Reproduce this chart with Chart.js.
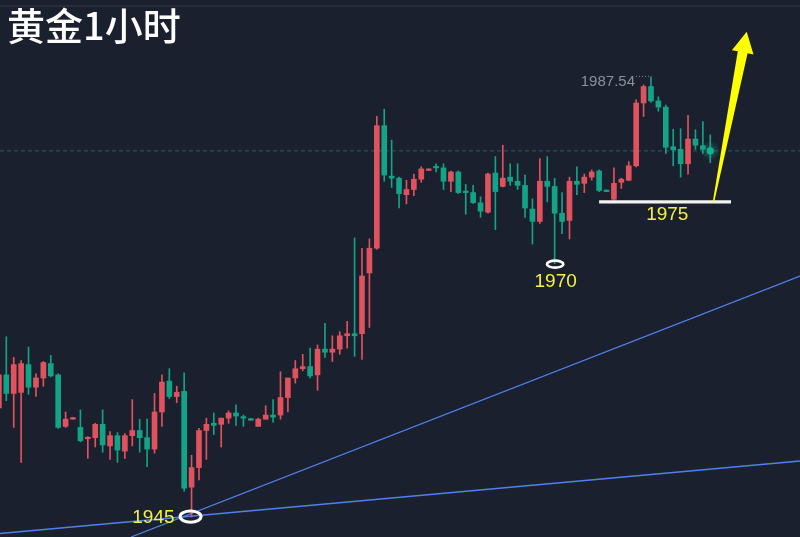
<!DOCTYPE html>
<html><head><meta charset="utf-8">
<script src="https://cdn.jsdelivr.net/npm/chart.js@4/dist/chart.umd.min.js"></script>
<style>html,body{margin:0;padding:0;background:#1b202e;overflow:hidden}canvas{display:block}</style>
</head><body>
<canvas id="c" width="800" height="537"></canvas>
<script>
// ---- data (gold, 1-hour candles) ----
const opens  = [1955.4,1958.6,1956.8,1956.9,1959.6,1957.4,1958.3,1959.7,1958.6,1953.6,1954.3,1953.5,1952.4,1952.5,1953.8,1951.7,1952.7,1951.2,1952.7,1953.2,
  1952.5,1951.4,1955.0,1958.0,1956.5,1957.0,1947.7,1949.6,1953.2,1953.9,1953.8,1954.4,1954.9,1954.5,1954.35,1953.6,1954.3,1954.7,1954.7,1956.4,
  1958.3,1959.2,1959.4,1958.6,1961.1,1960.8,1961.1,1962.4,1962.6,1962.6,1968.5,1970.9,1982.8,1977.9,1977.7,1976.1,1976.6,1977.6,1978.45,1978.8,
  1978.7,1977.4,1978.3,1976.4,1976.3,1975.3,1974.4,1978.2,1976.9,1977.8,1977.4,1977.0,1974.7,1973.5,1977.4,1976.9,1974.3,1973.6,1977.4,1977.2,
  1977.8,1978.4,1976.55,1975.65,1977.3,1977.5,1978.9,1985.0,1986.6,1985.2,1984.6,1980.75,1980.5,1979.1,1981.5,1980.85,1980.5];
const highs  = [1958.9,1962.3,1960.3,1960.0,1961.3,1958.7,1959.9,1960.5,1958.7,1955.0,1954.45,1955.2,1952.6,1953.9,1955.2,1953.1,1953.0,1952.9,1956.2,1954.3,
  1954.3,1956.8,1958.6,1959.2,1957.5,1958.8,1950.8,1953.4,1954.4,1954.9,1954.4,1955.1,1955.7,1954.7,1954.35,1954.4,1955.6,1956.2,1958.9,1958.3,
  1960.0,1960.6,1961.2,1961.5,1963.6,1962.4,1962.8,1963.8,1971.9,1970.9,1971.8,1983.7,1984.4,1981.4,1977.8,1977.5,1978.1,1978.8,1978.6,1979.1,
  1979.1,1978.4,1978.4,1977.1,1977.0,1975.9,1978.2,1979.8,1980.9,1979.1,1979.1,1978.0,1975.7,1979.6,1979.8,1977.7,1976.3,1977.8,1978.8,1978.1,
  1978.5,1978.5,1976.55,1978.7,1977.7,1979.3,1985.3,1986.75,1987.54,1985.6,1984.8,1982.45,1982.5,1983.8,1982.4,1983.2,1981.9];
const lows   = [1955.2,1956.1,1953.5,1950.1,1956.7,1956.5,1957.5,1958.4,1953.4,1953.5,1954.3,1952.1,1950.5,1951.6,1951.1,1950.4,1950.1,1950.5,1951.7,1951.1,
  1949.7,1951.0,1953.6,1956.3,1955.9,1947.3,1944.8,1948.4,1950.4,1952.8,1951.6,1953.9,1953.7,1953.6,1954.2,1953.6,1954.3,1954.0,1954.3,1955.0,
  1957.8,1959.0,1958.3,1957.1,1960.3,1959.9,1960.6,1961.2,1960.4,1960.1,1963.2,1970.8,1977.4,1976.8,1974.8,1975.2,1976.0,1977.3,1978.45,1978.3,
  1976.6,1976.4,1976.2,1974.2,1975.26,1973.9,1974.3,1972.7,1976.85,1977.0,1976.6,1973.9,1971.3,1973.3,1975.4,1969.4,1972.3,1971.8,1976.1,1976.3,
  1977.5,1976.4,1976.4,1975.55,1976.7,1977.45,1978.8,1983.7,1985.05,1984.2,1980.1,1978.9,1977.8,1978.1,1980.5,1980.1,1979.2];
const closes = [1958.6,1956.8,1959.6,1959.7,1957.4,1958.3,1959.8,1958.5,1953.5,1954.3,1954.45,1952.2,1952.5,1953.8,1951.8,1952.7,1951.3,1952.7,1953.2,1952.5,
  1951.4,1955.0,1957.9,1956.5,1956.9,1947.6,1949.6,1953.2,1953.8,1953.7,1954.4,1954.9,1954.6,1954.4,1954.2,1954.3,1954.7,1954.5,1956.4,1958.3,
  1959.2,1959.4,1958.5,1961.1,1960.8,1961.1,1962.4,1962.6,1962.4,1968.2,1970.9,1982.8,1978.0,1977.7,1976.2,1976.6,1977.6,1978.6,1978.6,1978.7,
  1977.4,1978.3,1976.3,1976.3,1975.32,1974.5,1978.1,1976.4,1977.7,1977.4,1977.0,1974.8,1973.5,1977.4,1976.9,1974.3,1973.5,1977.4,1977.1,1977.8,
  1978.3,1976.5,1976.4,1977.2,1977.6,1978.9,1985.0,1986.6,1985.2,1984.6,1980.7,1980.45,1979.1,1981.5,1980.9,1980.5,1980.35];

// annotations drawn on the picture (in chart units: candle index, price)
const titleText = '黄金1小时';
const highIdx = 88, highText = '1987.54';
const lowMarks = [{idx: 26, text: '1945'}, {idx: 75, text: '1970'}];
const supportPrice = 1975.4, supportFrom = 81.0, supportTo = 98.8, supportText = '1975', supportTextIdx = 90.2;
const trendA = [{x: 17.83, y: 1942.86}, {x: 108.11, y: 1968.2}];
const trendB = [{x: 0.15, y: 1943.2}, {x: 108.11, y: 1950.24}];
const arrowFrom = {x: 96.41, y: 1975.3}, arrowTo = {x: 100.92, y: 1991.92};

// ---- styles ----
const BG = '#1b202e', UP = '#e0525d', DOWN = '#13a387', YELLOW = '#f4f43c';
const X_MIN = 0.148, X_MAX = 108.11, Y_MIN = 1942.86, Y_MAX = 1995.0;

const isUp = i => closes[i] >= opens[i];
const colorOf = ctx => isUp(ctx.dataIndex) ? UP : DOWN;
const last = closes.length - 1;

const annot = {
  id: 'annot',
  beforeDraw(chart) {
    const c = chart.ctx; c.save(); c.fillStyle = BG; c.fillRect(0, 0, chart.width, chart.height);
    c.strokeStyle = '#2b3242'; c.lineWidth = 1.5; c.beginPath(); c.moveTo(0, 6); c.lineTo(chart.width, 6); c.stroke();
    c.restore();
  },
  afterDatasetsDraw(chart) {
    const c = chart.ctx, xs = chart.scales.x, ys = chart.scales.y;
    const X = v => xs.getPixelForValue(v), Y = v => ys.getPixelForValue(v);
    c.save();
    // glowing last-price dot
    const gx = X(last), gy = Y(closes[last]);
    const g = c.createRadialGradient(gx, gy, 0, gx, gy, 10);
    g.addColorStop(0, 'rgba(19,163,135,0.55)'); g.addColorStop(1, 'rgba(19,163,135,0)');
    c.fillStyle = g; c.beginPath(); c.arc(gx, gy, 10, 0, Math.PI * 2); c.fill();
    c.fillStyle = '#16b08f'; c.beginPath(); c.arc(gx, gy, 3.6, 0, Math.PI * 2); c.fill();

    // high label
    const hx = X(highIdx), hy = Y(highs[highIdx]);
    c.font = '15px "Liberation Sans", Arial, sans-serif'; c.fillStyle = '#8b909a';
    c.textAlign = 'right'; c.textBaseline = 'middle';
    c.fillText(highText, hx - 16, hy + 5);
    c.strokeStyle = '#8b909a'; c.lineWidth = 1; c.setLineDash([1, 2]);
    c.beginPath(); c.moveTo(hx - 15, hy - 0.5); c.lineTo(hx - 1, hy - 0.5); c.stroke();
    c.setLineDash([]);

    // low marks: white ellipses + yellow text
    c.font = '19px "Liberation Sans", Arial, sans-serif'; c.fillStyle = YELLOW;
    lowMarks.forEach((m, k) => {
      const mx = X(m.idx), my = Y(lows[m.idx]);
      c.strokeStyle = '#ffffff';
      if (k === 0) {
        c.lineWidth = 3; c.beginPath(); c.ellipse(mx - 1, my - 0.4, 10.5, 5.6, 0, 0, Math.PI * 2); c.stroke();
        c.textAlign = 'right'; c.textBaseline = 'middle'; c.fillText(m.text, mx - 17, my + 0.5);
      } else {
        c.lineWidth = 2.6; c.beginPath(); c.ellipse(mx + 0.5, my + 0.5, 8.2, 3.5, 0, 0, Math.PI * 2); c.stroke();
        c.textAlign = 'center'; c.textBaseline = 'middle'; c.fillText(m.text, mx + 1, my + 18);
      }
    });
    // support label
    c.textAlign = 'center'; c.textBaseline = 'middle';
    c.fillText(supportText, X(supportTextIdx), Y(supportPrice) + 13);

    // yellow arrow
    const bx = X(arrowFrom.x), by = Y(arrowFrom.y), tx = X(arrowTo.x), ty = Y(arrowTo.y);
    const L = Math.hypot(tx - bx, ty - by), ux = (tx - bx) / L, uy = (ty - by) / L, nx = -uy, ny = ux;
    const hxp = tx - ux * 21, hyp = ty - uy * 21;
    c.fillStyle = '#ffff00'; c.beginPath();
    c.moveTo(bx + nx * 0.7, by + ny * 0.7);
    c.lineTo(hxp + nx * 5, hyp + ny * 5);
    c.lineTo(hxp + nx * 11, hyp + ny * 11);
    c.lineTo(tx, ty);
    c.lineTo(hxp - nx * 11, hyp - ny * 11);
    c.lineTo(hxp - nx * 5, hyp - ny * 5);
    c.lineTo(bx - nx * 0.7, by - ny * 0.7);
    c.closePath(); c.fill();

    // title
    c.fillStyle = '#ffffff'; c.textAlign = 'left'; c.textBaseline = 'alphabetic';
    c.font = '500 38px "Noto Sans CJK SC", sans-serif';
    c.fillText(titleText, 7, 40);
    c.restore();
  }
};

new Chart(document.getElementById('c'), {
  type: 'bar',
  data: {
    datasets: [
      { type: 'bar', order: 1, grouped: false, barThickness: 5, minBarLength: 1.5, borderWidth: 0,
        data: opens.map((o, i) => ({x: i, y: [o, closes[i]]})),
        backgroundColor: colorOf },
      { type: 'bar', order: 2, grouped: false, barThickness: 1, borderWidth: 0,
        data: lows.map((l, i) => ({x: i, y: [l, highs[i]]})),
        backgroundColor: colorOf },
      { type: 'line', order: 5, data: [{x: X_MIN, y: closes[last]}, {x: X_MAX, y: closes[last]}],
        borderColor: '#236460', borderWidth: 1, borderDash: [4, 3], pointRadius: 0 },
      { type: 'line', order: 4, data: trendA, borderColor: '#4f80ee', borderWidth: 1.3, pointRadius: 0 },
      { type: 'line', order: 4, data: trendB, borderColor: '#4f80ee', borderWidth: 1.3, pointRadius: 0 },
      { type: 'line', order: 0, data: [{x: supportFrom, y: supportPrice}, {x: supportTo, y: supportPrice}],
        borderColor: '#f2f2f2', borderWidth: 3.2, pointRadius: 0 }
    ]
  },
  options: {
    responsive: false, animation: false,
    layout: {padding: 0},
    plugins: {legend: {display: false}, tooltip: {enabled: false}},
    scales: {
      x: {type: 'linear', min: X_MIN, max: X_MAX, display: false, offset: false},
      y: {type: 'linear', min: Y_MIN, max: Y_MAX, display: false}
    }
  },
  plugins: [annot]
});
</script>
</body></html>
